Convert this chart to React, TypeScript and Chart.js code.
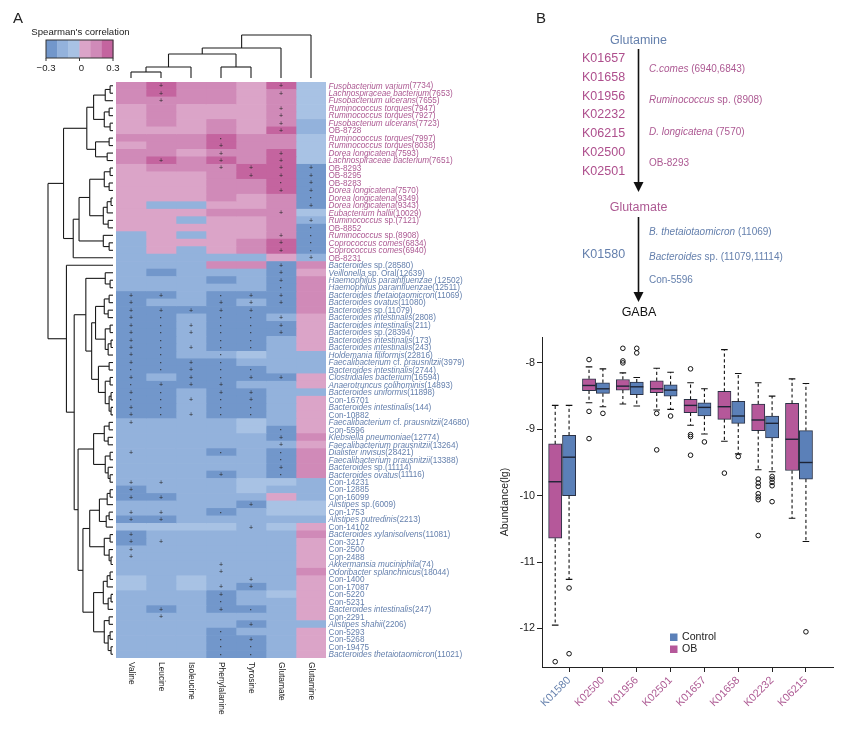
import React, { useEffect, useRef } from 'react';
import { Chart, registerables } from 'chart.js';

Chart.register(...registerables);

const FONT = '"Liberation Sans", Arial, Helvetica, sans-serif';

// ---------------- Panel A data ----------------
const aminoAcids = ['Valine', 'Leucine', 'Isoleucine', 'Phenylalanine', 'Tyrosine', 'Glutamate', 'Glutamine'];

// text between underscores is italic
const speciesLabels = [
  '_Fusobacterium varium_(7734)',
  '_Lachnospiraceae bacterium_(7653)',
  '_Fusobacterium ulcerans_(7655)',
  '_Ruminococcus torques_(7947)',
  '_Ruminococcus torques_(7927)',
  '_Fusobacterium ulcerans_(7723)',
  'OB-8728',
  '_Ruminococcus torques_(7997)',
  '_Ruminococcus torques_(8038)',
  '_Dorea longicatena_(7593)',
  '_Lachnospiraceae bacterium_(7651)',
  'OB-8293',
  'OB-8295',
  'OB-8283',
  '_Dorea longicatena_(7570)',
  '_Dorea longicatena_(9349)',
  '_Dorea longicatena_(9343)',
  '_Eubacterium hallii_(10029)',
  '_Ruminococcus_ sp.(7121)',
  'OB-8852',
  '_Ruminococcus_ sp.(8908)',
  '_Coprococcus comes_(6834)',
  '_Coprococcus comes_(6940)',
  'OB-8231',
  '_Bacteroides_ sp.(28580)',
  '_Veillonella_ sp. Oral(12639)',
  '_Haemophilus parainfluenzae_ (12502)',
  '_Haemophilus parainfluenzae_(12511)',
  '_Bacteroides thetaiotaomicron_(11069)',
  '_Bacteroides ovatus_(11080)',
  '_Bacteroides_ sp.(11079)',
  '_Bacteroides intestinalis_(2808)',
  '_Bacteroides intestinalis_(211)',
  '_Bacteroides_ sp.(28394)',
  '_Bacteroides intestinalis_(173)',
  '_Bacteroides intestinalis_(243)',
  '_Holdemania filiformis_(22816)',
  '_Faecalibacterium_ cf. _prausnitzii_(3979)',
  '_Bacteroides intestinalis_(2744)',
  '_Clostridiales bacterium_(16594)',
  '_Anaerotruncus colihominis_(14893)',
  '_Bacteroides uniformis_(11898)',
  'Con-16701',
  '_Bacteroides intestinalis_(144)',
  'Con-10882',
  '_Faecalibacterium_ cf. _prausnitzii_(24680)',
  'Con-5596',
  '_Klebsiella pneumoniae_(12774)',
  '_Faecalibacterium prausnitzii_(13264)',
  '_Dialister invisus_(28421)',
  '_Faecalibacterium prausnitzii_(13388)',
  '_Bacteroides_ sp.(11114)',
  '_Bacteroides ovatus_(11116)',
  'Con-14231',
  'Con-12885',
  'Con-16099',
  '_Alistipes_ sp.(6009)',
  'Con-1753',
  '_Alistipes putredinis_(2213)',
  'Con-14102',
  '_Bacteroides xylanisolvens_(11081)',
  'Con-3217',
  'Con-2500',
  'Con-2488',
  '_Akkermansia muciniphila_(74)',
  '_Odoribacter splanchnicus_(18044)',
  'Con-1400',
  'Con-17087',
  'Con-5220',
  'Con-5231',
  '_Bacteroides intestinalis_(247)',
  'Con-2291',
  '_Alistipes shahii_(2206)',
  'Con-5293',
  'Con-5268',
  'Con-19475',
  '_Bacteroides thetaiotaomicron_(11021)',
];
const obEnrichedCount = 24; // first rows labelled in pink

// correlation level per cell (columns = aminoAcids)
// D=-0.25 L=-0.15 l=-0.05 p=0.05 m=0.15 P=0.25
const cellLevels = [
  'mPmmpPl', 'mPmmpml', 'mmmmpml', 'pmpppml', 'pmpppml', 'pmpmpmL', 'pppmpPL', 'mmmPmml',
  'pmmPmml', 'mmpmmPl', 'mPmPmPl', 'pmmmPPD', 'pppmPPD', 'pppmmPD', 'pppmmPD', 'pppmpmD',
  'pLLppmD', 'pppmmml', 'ppLppmL', 'pppppmD', 'LpLppmD', 'LpppmPD', 'LpLpmPD', 'LLLLLpL',
  'LLLmmDm', 'LDLLLDp', 'LLLDLDm', 'LLLLLDm', 'DDLDDDm', 'DLLDLDm', 'DDDDDDm', 'DDLDDLp',
  'DDLDDDp', 'DDLDDDp', 'DDLDDLp', 'DDLDDLp', 'DDLLlLL', 'DDDDLLL', 'DDDDDLL', 'DLDDDDp',
  'DDDDLLp', 'DDLDDLL', 'DDLDDLp', 'DDLDDLp', 'DDLDDLp', 'LLLLlLp', 'LLLLlDp', 'LLLLLDm',
  'LLLLLLp', 'LLLDLDm', 'LLLLLDm', 'LLLLLDm', 'LLLDLDm', 'LLLLllL', 'DLLLlLL', 'DDLLLpL',
  'LLLLDll', 'LLLDLll', 'DDLLLLL', 'llllLlp', 'DLLLLLm', 'DLLLLLp', 'LLLLLLp', 'LLLLLLp',
  'LLLLLLp', 'LLLLLLm', 'lLlLLLp', 'lLlLDLp', 'LLLDLlp', 'LLLDLLp', 'LDLDDLp', 'LLLLLLp',
  'LLLLDLL', 'LLLDLLp', 'LLLDDLp', 'LLLDDLp', 'LLLDDLp',
];
const levelValue: Record<string, number> = { D: -0.25, L: -0.15, l: -0.05, p: 0.05, m: 0.15, P: 0.25 };

// significance marks per cell: '+' or '*', '-' none
const sigMarks = [
  '-+---+-', '-+---+-', '-+-----', '-----+-', '-----+-', '-----+-', '-----+-', '---*---',
  '---+---', '---+-+-', '-+-+-+-', '---++++', '----+++', '-----*+', '-----++', '------*',
  '------+', '-----+-', '------+', '------*', '-----+*', '-----+*', '-----+*', '------+',
  '-----+-', '-----+-', '-----+-', '-----*-', '++-*++-', '+--+++-', '+++++--', '+*-**+-',
  '+*+**+-', '+*+**+-', '+*-**--', '+*+**--', '+*-*---', '+*+*---', '**+**--', '+-+*++-',
  '*+++---', '+*-++--', '**+*+--', '+*-**--', '+*+**--', '+------', '-----*-', '-----+-',
  '-----+-', '+--*-*-', '-----*-', '-----+-', '---+-*-', '++-----', '+------', '++-----',
  '----+--', '++-*---', '++-----', '----+--', '+------', '++-----', '+------', '+------',
  '---+---', '---+---', '----+--', '---++--', '---+---', '---*---', '-+-+*--', '-+-----',
  '----+--', '---*---', '---*+--', '---**--', '---**--',
];

type Tree = number | [Tree, Tree, number];
// row dendrogram: [left, right, merge height]
const P02: Tree = [[0, 1, 3], 2, 8];
const P36: Tree = [[3, 4, 4], [5, 6, 3], 9];
const P710: Tree = [[7, 8, 4], [9, 10, 6], 18];
const PA: Tree = [[P02, P36, 20], P710, 27];
const P1114: Tree = [[11, 12, 3], [13, 14, 4], 9];
const P1519: Tree = [[[15, 16, 2], 17, 6], [18, 19, 5], 10];
const P2022: Tree = [20, [21, 22, 4], 10];
const PB: Tree = [[[P1114, P1519, 24], P2022, 35], 23, 41];
const C2527: Tree = [25, [26, 27, 3], 8];
const B2836: Tree = [[[28, 29, 4], [30, 31, 5], 9], [[32, 33, 3], [[34, 35, 2], 36, 5], 8], 18];
const B3744: Tree = [[37, 38, 4], [[39, 40, 3], [[41, 42, 2], [43, 44, 2], 4], 8], 15];
const B4553: Tree = [[[45, 46, 4], [47, 48, 5], 9], [[49, 50, 3], [51, [52, 53, 3], 5], 8], 20];
const B5459: Tree = [[[54, 55, 3], 56, 6], [[57, 58, 4], 59, 7], 14];
const B6064: Tree = [[60, 61, 3], [62, [63, 64, 2], 4], 9];
const B6570: Tree = [[[65, 66, 3], 67, 6], [[68, 69, 2], 70, 5], 10];
const B7176: Tree = [[71, 72, 4], [[73, 74, 3], [75, 76, 2], 5], 9];
const BU: Tree = [C2527, [B2836, B3744, 22], 28];
const BLo: Tree = [B4553, [[B5459, B6064, 24], [B6570, B7176, 20], 31], 36];
const rowTree: Tree = [[PA, PB, 51], [24, [BU, BLo, 40], 48], 67];
const rowTreeMax = 67;
const colTree: Tree = [[[[[0, 1, 6], 2, 11], [3, 4, 11], 24], 5, 30], 6, 43];
const colTreeMax = 43;

const heatPalette = ['#7297cb', '#93b2dc', '#a8c2e4', '#dba4c8', '#d08ab8', '#c4649f'];
const legendTicks = [-0.3, 0, 0.3];
const legendTickLabels = ['\u22120.3', '0', '0.3'];

// ---------------- Panel B data ----------------
const boxCategories = ['K01580', 'K02500', 'K01956', 'K02501', 'K01657', 'K01658', 'K02232', 'K06215'];
const obWhiskerLow = [-11.95, -8.6, -8.62, -8.71, -8.94, -9.18, -9.61, -10.34];
const obQ1 = [-10.64, -8.42, -8.41, -8.45, -8.75, -8.85, -9.02, -9.62];
const obMedian = [-9.79, -8.34, -8.35, -8.39, -8.64, -8.66, -8.86, -9.15];
const obQ3 = [-9.22, -8.24, -8.25, -8.27, -8.55, -8.43, -8.62, -8.61];
const obWhiskerHigh = [-8.64, -8.06, -8.15, -8.08, -8.3, -7.8, -8.3, -8.24];
const obOutliers = [
  [-12.5], [-7.95, -8.73, -9.14], [-7.78, -7.97, -8.0], [-8.76, -9.31],
  [-8.09, -9.08, -9.11, -9.39], [-9.66], [-9.75, -9.81, -9.86, -9.97, -10.02, -10.06, -10.6], [],
];
const ctlWhiskerLow = [-11.26, -8.66, -8.65, -8.7, -9.07, -9.37, -9.64, -10.69];
const ctlQ1 = [-10.0, -8.46, -8.48, -8.5, -8.8, -8.91, -9.13, -9.75];
const ctlMedian = [-9.42, -8.39, -8.36, -8.41, -8.67, -8.8, -8.91, -9.5];
const ctlQ3 = [-9.09, -8.3, -8.29, -8.33, -8.6, -8.58, -8.8, -9.02];
const ctlWhiskerHigh = [-8.64, -8.09, -8.22, -8.14, -8.39, -8.16, -8.5, -8.31];
const ctlOutliers = [
  [-11.39, -12.38], [-8.76], [-7.78, -7.85], [-8.8], [-9.19], [-9.41],
  [-9.71, -9.75, -9.8, -9.85, -10.09], [-12.05],
];

const OB_COLOR = '#b5589a';
const CTL_COLOR = '#5b80b8';
const PINK_TEXT = '#ad5a93';
const BLUE_TEXT = '#6580ad';

// pathway texts
const upstreamKOs = ['K01657', 'K01658', 'K01956', 'K02232', 'K06215', 'K02500', 'K02501'];
const upstreamTaxa = ['_C.comes_ (6940,6843)', '_Ruminococcus_ sp. (8908)', '_D. longicatena_ (7570)', 'OB-8293'];
const downstreamKOs = ['K01580'];
const downstreamTaxa = ['_B. thetaiotaomicron_ (11069)', '_Bacteroides_ sp. (11079,11114)', 'Con-5596'];

// ---------------- helpers ----------------
function colorFor(v: number) {
  const idx = Math.min(5, Math.max(0, Math.floor((v + 0.3) / 0.1 + 1e-9)));
  return heatPalette[idx];
}
const corr = cellLevels.map((row) => row.split('').map((ch) => levelValue[ch]));
const plain = (s: string) => s.replace(/_/g, '');

function drawRich(ctx: CanvasRenderingContext2D, text: string, x: number, y: number, size: number, color: string) {
  const parts = text.split('_');
  let cx = x;
  ctx.fillStyle = color;
  parts.forEach((p, i) => {
    if (!p) return;
    ctx.font = `${i % 2 === 1 ? 'italic ' : ''}${size}px ${FONT}`;
    ctx.fillText(p, cx, y);
    cx += ctx.measureText(p).width;
  });
}

function drawTree(
  ctx: CanvasRenderingContext2D,
  node: Tree,
  leafPos: (i: number) => number,
  hPos: (h: number) => number,
  horizontal: boolean
): { p: number; h: number } {
  if (typeof node === 'number') return { p: leafPos(node), h: 0 };
  const a = drawTree(ctx, node[0], leafPos, hPos, horizontal);
  const b = drawTree(ctx, node[1], leafPos, hPos, horizontal);
  const h = node[2];
  const line = (p1: number, h1: number, p2: number, h2: number) => {
    ctx.beginPath();
    if (horizontal) {
      ctx.moveTo(hPos(h1), p1);
      ctx.lineTo(hPos(h2), p2);
    } else {
      ctx.moveTo(p1, hPos(h1));
      ctx.lineTo(p2, hPos(h2));
    }
    ctx.stroke();
  };
  line(a.p, a.h, a.p, h);
  line(b.p, b.h, b.p, h);
  line(a.p, h, b.p, h);
  return { p: (a.p + b.p) / 2, h };
}

const heatPlugin = {
  id: 'heatDecor',
  afterDatasetsDraw(chart: any) {
    const { ctx, chartArea: area, scales } = chart;
    const xs = scales.x;
    const ys = scales.y;
    ctx.save();
    // significance marks
    ctx.fillStyle = '#2a2a2a';
    ctx.textAlign = 'center';
    ctx.textBaseline = 'middle';
    sigMarks.forEach((row, r) => {
      row.split('').forEach((ch, c) => {
        if (ch === '-') return;
        const px = xs.getPixelForValue(c + 0.5);
        const py = ys.getPixelForValue(r);
        if (ch === '+') {
          ctx.font = `7px ${FONT}`;
          ctx.fillText('+', px, py + 0.5);
        } else {
          ctx.font = `bold 7px ${FONT}`;
          ctx.fillText('\u00b7', px, py + 0.5);
        }
      });
    });
    // row labels
    ctx.textAlign = 'left';
    ctx.textBaseline = 'middle';
    speciesLabels.forEach((lab, r) => {
      drawRich(ctx, lab, area.right + 2.5, ys.getPixelForValue(r) + 0.5, 8.2, r < obEnrichedCount ? PINK_TEXT : BLUE_TEXT);
    });
    // column labels (rotated, reading downward)
    ctx.fillStyle = '#222';
    ctx.font = `8.4px ${FONT}`;
    aminoAcids.forEach((name, c) => {
      ctx.save();
      ctx.translate(xs.getPixelForValue(c + 0.5), area.bottom + 4);
      ctx.rotate(Math.PI / 2);
      ctx.textAlign = 'left';
      ctx.textBaseline = 'middle';
      ctx.fillText(name, 0, 0);
      ctx.restore();
    });
    // dendrograms
    ctx.strokeStyle = '#1a1a1a';
    ctx.lineWidth = 1.1;
    const rowLeafX = area.left - 3;
    const rowDendroW = 65;
    drawTree(ctx, rowTree, (i) => ys.getPixelForValue(i), (h) => rowLeafX - (h / rowTreeMax) * rowDendroW, true);
    const colLeafY = area.top - 4;
    const colDendroH = 43;
    drawTree(ctx, colTree, (i) => xs.getPixelForValue(i + 0.5), (h) => colLeafY - (h / colTreeMax) * colDendroH, false);

    // colour legend
    const lx = 46;
    const lw = 67;
    const ly = 40;
    const lh = 18;
    const bw = lw / heatPalette.length;
    heatPalette.forEach((col, i) => {
      ctx.fillStyle = col;
      ctx.fillRect(lx + i * bw, ly, bw + 0.4, lh);
    });
    ctx.strokeStyle = '#333';
    ctx.lineWidth = 1;
    ctx.strokeRect(lx, ly, lw, lh);
    ctx.fillStyle = '#222';
    ctx.font = `9.6px ${FONT}`;
    ctx.textAlign = 'center';
    ctx.textBaseline = 'middle';
    legendTicks.forEach((t, i) => {
      const px = lx + ((t + 0.3) / 0.6) * lw;
      ctx.beginPath();
      ctx.moveTo(px, ly + lh);
      ctx.lineTo(px, ly + lh + 3);
      ctx.stroke();
      ctx.fillText(legendTickLabels[i], px + (i === 1 ? 2 : 0), ly + lh + 10);
    });
    ctx.fillText("Spearman's correlation", lx + lw / 2 + 1, 32.5);
    ctx.font = `15px ${FONT}`;
    ctx.textAlign = 'left';
    ctx.fillText('A', 13, 19);
    ctx.restore();
  },
};

function HeatmapPanel() {
  const ref = useRef<HTMLCanvasElement>(null);
  useEffect(() => {
    const chart = new Chart(ref.current as HTMLCanvasElement, {
      type: 'bar',
      data: {
        labels: speciesLabels.map(plain),
        datasets: aminoAcids.map((name, c) => ({
          label: name,
          data: speciesLabels.map(() => [c, c + 1]) as any,
          backgroundColor: corr.map((row) => colorFor(row[c])),
          borderWidth: 0,
          grouped: false,
          barPercentage: 1,
          categoryPercentage: 1,
        })),
      },
      options: {
        indexAxis: 'y',
        animation: false,
        responsive: false,
        events: [],
        layout: { padding: { left: 116, top: 82, right: 174, bottom: 79 } },
        plugins: { legend: { display: false }, tooltip: { enabled: false } },
        scales: {
          x: { type: 'linear', min: 0, max: 7, display: false },
          y: { type: 'category', display: false },
        },
      },
      plugins: [heatPlugin],
    } as any);
    return () => chart.destroy();
  }, []);
  return (
    <canvas
      ref={ref}
      width={500}
      height={737}
      style={{ position: 'absolute', left: 0, top: 0, width: 500, height: 737 }}
    />
  );
}

const OB_OFFSET = -0.41;
const BOX_W = 13.2;

const boxPlugin = {
  id: 'boxDecor',
  afterDatasetsDraw(chart: any) {
    const { ctx, scales, chartArea } = chart;
    const xs = scales.x;
    const ys = scales.y;
    const groups = [
      { off: OB_OFFSET, lo: obWhiskerLow, med: obMedian, q1: obQ1, q3: obQ3, hi: obWhiskerHigh },
      { off: 0, lo: ctlWhiskerLow, med: ctlMedian, q1: ctlQ1, q3: ctlQ3, hi: ctlWhiskerHigh },
    ];
    ctx.save();
    groups.forEach((g) => {
      boxCategories.forEach((_, i) => {
        const px = xs.getPixelForValue(i + g.off);
        const yHi = ys.getPixelForValue(g.hi[i]);
        const yLo = ys.getPixelForValue(g.lo[i]);
        const yQ1 = ys.getPixelForValue(g.q1[i]);
        const yQ3 = ys.getPixelForValue(g.q3[i]);
        const yMed = ys.getPixelForValue(g.med[i]);
        ctx.strokeStyle = '#111';
        ctx.lineWidth = 1.1;
        ctx.setLineDash([3.2, 2.6]);
        ctx.beginPath();
        ctx.moveTo(px, yQ3);
        ctx.lineTo(px, yHi);
        ctx.moveTo(px, yQ1);
        ctx.lineTo(px, yLo);
        ctx.stroke();
        ctx.setLineDash([]);
        ctx.beginPath();
        ctx.moveTo(px - 3.3, yHi);
        ctx.lineTo(px + 3.3, yHi);
        ctx.moveTo(px - 3.3, yLo);
        ctx.lineTo(px + 3.3, yLo);
        ctx.stroke();
        ctx.strokeStyle = '#1d2436';
        ctx.lineWidth = 1.4;
        ctx.beginPath();
        ctx.moveTo(px - BOX_W / 2, yMed);
        ctx.lineTo(px + BOX_W / 2, yMed);
        ctx.stroke();
      });
    });
    // legend
    const items = [
      { label: 'Control', color: CTL_COLOR },
      { label: 'OB', color: OB_COLOR },
    ];
    ctx.font = `10.6px ${FONT}`;
    ctx.textBaseline = 'middle';
    ctx.textAlign = 'left';
    items.forEach((it, k) => {
      const sx = chartArea.left + 128;
      const sy = chartArea.bottom - 30 + k * 12;
      ctx.fillStyle = it.color;
      ctx.fillRect(sx, sy - 3.5, 7.5, 7.5);
      ctx.fillStyle = '#222';
      ctx.fillText(it.label, sx + 12, sy + 0.5);
    });
    ctx.restore();
  },
};

function BoxPanel() {
  const ref = useRef<HTMLCanvasElement>(null);
  useEffect(() => {
    const outlierPoints = (arr: number[][], off: number) =>
      arr.flatMap((vals, i) => vals.map((v) => ({ x: i + off, y: v })));
    const chart = new Chart(ref.current as HTMLCanvasElement, {
      type: 'bar',
      data: {
        datasets: [
          {
            type: 'bar',
            label: 'OB',
            data: boxCategories.map((_, i) => ({ x: i + OB_OFFSET, y: [obQ1[i], obQ3[i]] })),
            backgroundColor: OB_COLOR,
            borderColor: '#2b3246',
            borderWidth: 1,
            borderSkipped: false,
            barThickness: BOX_W,
            grouped: false,
          },
          {
            type: 'bar',
            label: 'Control',
            data: boxCategories.map((_, i) => ({ x: i, y: [ctlQ1[i], ctlQ3[i]] })),
            backgroundColor: CTL_COLOR,
            borderColor: '#2b3246',
            borderWidth: 1,
            borderSkipped: false,
            barThickness: BOX_W,
            grouped: false,
          },
          {
            type: 'line',
            label: 'OB outliers',
            data: outlierPoints(obOutliers, OB_OFFSET),
            showLine: false,
            pointStyle: 'circle',
            pointRadius: 2.3,
            pointBorderWidth: 1,
            pointBorderColor: '#111',
            pointBackgroundColor: 'rgba(0,0,0,0)',
          },
          {
            type: 'line',
            label: 'Control outliers',
            data: outlierPoints(ctlOutliers, 0),
            showLine: false,
            pointStyle: 'circle',
            pointRadius: 2.3,
            pointBorderWidth: 1,
            pointBorderColor: '#111',
            pointBackgroundColor: 'rgba(0,0,0,0)',
          },
        ],
      },
      options: {
        animation: false,
        responsive: false,
        events: [],
        layout: { padding: { left: 0, top: 17, right: 27, bottom: 0 } },
        plugins: { legend: { display: false }, tooltip: { enabled: false } },
        scales: {
          x: {
            type: 'linear',
            min: -0.8,
            max: 7.8,
            offset: false,
            afterFit: (s: any) => {
              s.height = 70;
            },
            grid: { display: true, drawOnChartArea: false, drawTicks: true, tickLength: 5, color: '#222', offset: false },
            border: { display: true, color: '#222', width: 1 },
            ticks: {
              stepSize: 1,
              includeBounds: false,
              autoSkip: false,
              minRotation: 45,
              maxRotation: 45,
              padding: 2,
              font: { family: FONT, size: 10.8 },
              color: (c: any) => (c.tick && c.tick.value === 0 ? BLUE_TEXT : PINK_TEXT),
              callback: (v: any) => (Number.isInteger(v) && v >= 0 && v < boxCategories.length ? boxCategories[v] : ''),
            },
          },
          y: {
            type: 'linear',
            min: -12.58,
            max: -7.61,
            afterFit: (s: any) => {
              s.width = 52;
            },
            grid: { display: true, drawOnChartArea: false, drawTicks: true, tickLength: 5, color: '#222' },
            border: { display: true, color: '#222', width: 1 },
            title: {
              display: true,
              text: 'Abundance(lg)',
              color: '#222',
              font: { family: FONT, size: 10.5 },
              padding: { top: 9, bottom: 0 },
            },
            ticks: {
              stepSize: 1,
              includeBounds: false,
              padding: 2,
              color: '#222',
              font: { family: FONT, size: 10.8 },
            },
          },
        },
      },
      plugins: [boxPlugin],
    } as any);
    return () => chart.destroy();
  }, []);
  return (
    <canvas
      ref={ref}
      width={370}
      height={417}
      style={{ position: 'absolute', left: 490, top: 320, width: 370, height: 417 }}
    />
  );
}

function Rich({ text }: { text: string }) {
  return (
    <>
      {text.split('_').map((p, i) =>
        i % 2 === 1 ? <i key={i}>{p}</i> : <span key={i}>{p}</span>
      )}
    </>
  );
}

function Label({ x, y, size, color, children, center }: any) {
  return (
    <div
      style={{
        position: 'absolute',
        left: x,
        top: y - size * 0.6,
        fontSize: size,
        lineHeight: `${size * 1.2}px`,
        color,
        whiteSpace: 'nowrap',
        transform: center ? 'translateX(-50%)' : undefined,
      }}
    >
      {children}
    </div>
  );
}

function Pathway() {
  const koY = [58, 77, 96, 114.5, 133, 152, 171];
  const taxaY = [69, 100, 132, 163];
  const downY = [232, 257, 280];
  return (
    <>
      <svg width={860} height={737} style={{ position: 'absolute', left: 0, top: 0, pointerEvents: 'none' }}>
        <line x1={638.5} y1={49} x2={638.5} y2={185} stroke="#111" strokeWidth={1.6} />
        <polygon points="633.5,182 643.5,182 638.5,192" fill="#111" />
        <line x1={638.5} y1={217} x2={638.5} y2={295} stroke="#111" strokeWidth={1.6} />
        <polygon points="633.5,292 643.5,292 638.5,302" fill="#111" />
      </svg>
      <Label x={536} y={18} size={15} color="#222">B</Label>
      <Label x={638.5} y={40} size={12.5} color={BLUE_TEXT} center>Glutamine</Label>
      {upstreamKOs.map((k, i) => (
        <Label key={k} x={582} y={koY[i]} size={12.5} color="#ae4f8d">{k}</Label>
      ))}
      {upstreamTaxa.map((t, i) => (
        <Label key={t} x={649} y={taxaY[i]} size={10} color={PINK_TEXT}><Rich text={t} /></Label>
      ))}
      <Label x={638.5} y={207} size={12.5} color={PINK_TEXT} center>Glutamate</Label>
      {downstreamKOs.map((k) => (
        <Label key={k} x={582} y={254} size={12.5} color={BLUE_TEXT}>{k}</Label>
      ))}
      {downstreamTaxa.map((t, i) => (
        <Label key={t} x={649} y={downY[i]} size={10} color={BLUE_TEXT}><Rich text={t} /></Label>
      ))}
      <Label x={639} y={312} size={12.5} color="#111" center>GABA</Label>
    </>
  );
}

export default function App() {
  return (
    <div
      style={{
        position: 'absolute',
        left: 0,
        top: 0,
        width: 860,
        height: 737,
        background: '#fff',
        fontFamily: FONT,
        overflow: 'hidden',
      }}
    >
      <HeatmapPanel />
      <Pathway />
      <BoxPanel />
    </div>
  );
}
